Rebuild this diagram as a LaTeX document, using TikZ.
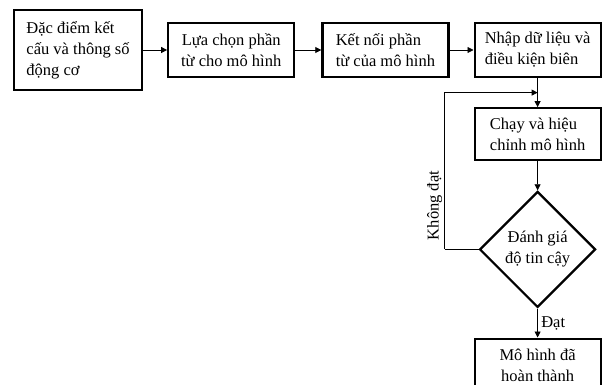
\documentclass[tikz,border=0pt]{standalone}
\usepackage{fontspec}
\setmainfont{Liberation Serif}
\usetikzlibrary{shapes.geometric,arrows.meta,positioning,calc}

\begin{document}
\begin{tikzpicture}[
    x=1pt, y=-1pt,
    node distance=29pt and 25pt,
    font=\fontsize{16.5}{21}\selectfont,
    box/.style={rectangle, draw, line width=2.2pt, minimum width=126pt, minimum height=54pt, align=left, inner sep=3pt},
    check/.style={diamond, draw, line width=2.2pt, minimum size=116pt, inner sep=0pt, align=center},
    arrow/.style={-{Triangle[length=6pt, width=6pt]}, line width=0.8pt}
]
    \useasboundingbox (0,0) rectangle (603,385);

    % Top row
    \node[box, minimum width=128pt, minimum height=80pt] (spec) at (78,50) {Đặc điểm kết\\cấu và thông số\\động cơ};
    \node[box, align=center, right=24pt of spec] (choose) {Lựa chọn phần\\từ cho mô hình};
    \node[box, right=26pt of choose] (link) {Kết nối phần\\từ của mô hình};
    \node[box, right=24pt of link] (input) {Nhập dữ liệu và\\điều kiện biên};

    % Right column
    \node[box, minimum height=52pt, below=of input] (run) {Chạy và hiệu\\chỉnh mô hình};
    \node[check, below=29pt of run] (eval) {Đánh giá\\độ tin cậy};
    \node[box, align=center, below=29pt of eval] (done) {Mô hình đã\\hoàn thành};

    % Connectors
    \draw[arrow] (spec) -- (choose);
    \draw[arrow] (choose) -- (link);
    \draw[arrow] (link) -- (input);
    \draw[arrow] (input) -- (run);
    \draw[arrow] (run) -- (eval);
    \draw[arrow] (eval) -- node[right] {Đạt} (done);

    % Feedback loop
    \coordinate (join) at ($(input.south)!0.5!(run.north)$);
    \coordinate[left=34pt of eval.west] (back);
    \draw[line width=0.8pt] (eval.west) -- (back);
    \draw[arrow] (back) |- node[pos=0.14, rotate=90, above, inner sep=2pt] {Không đạt} (join);
\end{tikzpicture}
\end{document}
